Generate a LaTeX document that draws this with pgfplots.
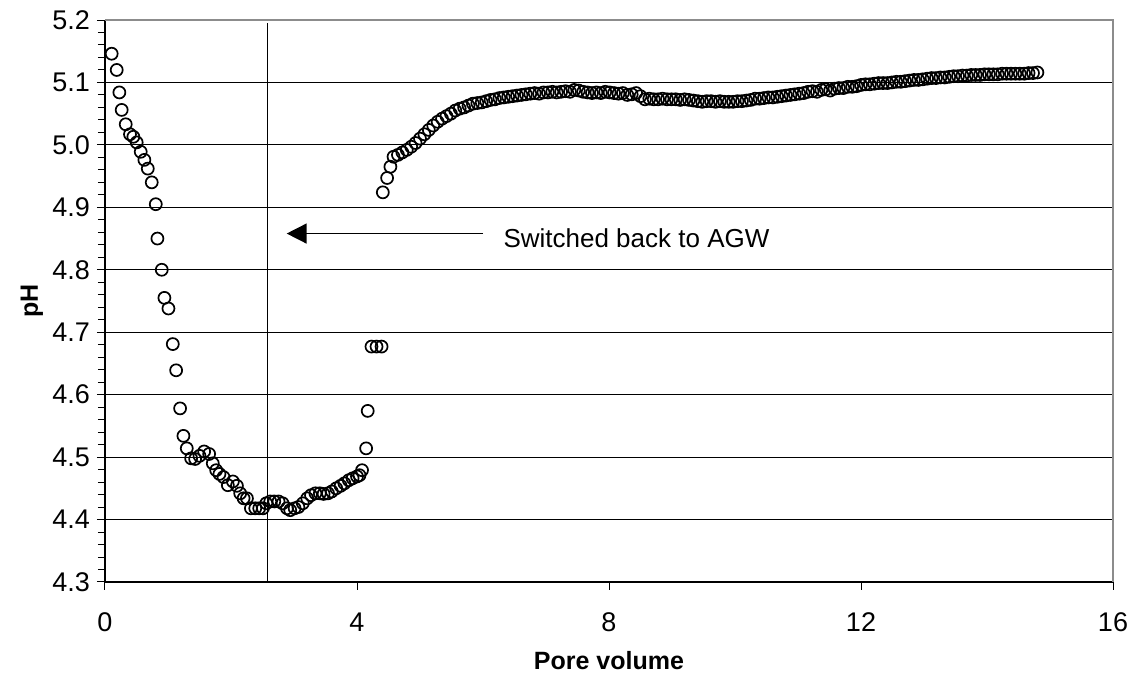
\documentclass[border=0pt]{standalone}
\usepackage{fontspec}
\setmainfont{Liberation Sans}
\usepackage{pgfplots}
\pgfplotsset{compat=1.18}
\usetikzlibrary{arrows.meta}
\begin{document}
\begin{tikzpicture}
\begin{axis}[
  scale only axis, width=504pt, height=281pt,
  xmin=0, xmax=16, ymin=4.3, ymax=5.2,
  xtick={0,4,8,12,16},
  ytick={4.3,4.4,4.5,4.6,4.7,4.8,4.9,5.0,5.1,5.2},
  minor y tick num=4,
  axis x line*=bottom, axis y line*=left,
  axis line style={black, line width=0.65pt},
  tick align=outside,
  major tick length=4pt, minor tick length=3.5pt,
  tick style={black, line width=0.5pt},
  ymajorgrids, major grid style={black, line width=0.5pt},
  /pgf/number format/assume math mode=true,
  ticklabel style={font=\fontsize{13.5}{15}\selectfont},
  yticklabel style={/pgf/number format/.cd, fixed, fixed zerofill, precision=1},
  xticklabel style={yshift=-8pt},
  xlabel={Pore volume}, ylabel={pH},
  label style={font=\fontsize{12.5}{14}\selectfont\bfseries},
  xlabel style={at={(axis description cs:0.5,-0.1566)}, anchor=base},
  ylabel style={at={(axis description cs:-0.0665,0.5)}, anchor=base},
  clip=false,
]
\coordinate (ll) at (rel axis cs:0,0);
\coordinate (ur) at (rel axis cs:1,1);
\draw[black!45, line width=0.65pt] (rel axis cs:0,1) -- (rel axis cs:1,1) -- (rel axis cs:1,0);
\addplot[only marks, mark=o, mark size=3pt, mark options={line width=0.85pt, black, fill=none}] table {
x y
0.106 5.146
0.186 5.120
0.228 5.084
0.265 5.056
0.329 5.033
0.397 5.017
0.45 5.013
0.503 5.004
0.567 4.989
0.625 4.976
0.679 4.962
0.742 4.940
0.806 4.905
0.832 4.850
0.901 4.800
0.943 4.755
1.007 4.738
1.076 4.681
1.129 4.639
1.192 4.578
1.245 4.534
1.298 4.514
1.367 4.498
1.431 4.497
1.50 4.502
1.574 4.509
1.653 4.505
1.711 4.490
1.765 4.479
1.817 4.473
1.881 4.468
1.950 4.455
2.03 4.461
2.094 4.454
2.146 4.442
2.20 4.434
2.253 4.434
2.316 4.418
2.385 4.418
2.448 4.418
2.507 4.418
2.56 4.426
2.623 4.429
2.687 4.429
2.755 4.429
2.819 4.426
2.889 4.418
2.94 4.415
3.01 4.418
3.07 4.420
3.14 4.426
3.21 4.434
3.27 4.439
3.34 4.442
3.41 4.442
3.47 4.441
3.54 4.442
3.60 4.445
3.67 4.450
3.74 4.454
3.80 4.458
3.87 4.463
3.93 4.466
4.00 4.469
4.04 4.471
4.08 4.479
4.145 4.514
4.17 4.574
4.23 4.677
4.31 4.677
4.39 4.677
4.41 4.924
4.478 4.947
4.53 4.965
4.58 4.981
4.65 4.984
4.72 4.988
4.79 4.992
4.86 4.997
4.93 5.003
5.00 5.010
5.07 5.017
5.14 5.024
5.21 5.031
5.28 5.037
5.35 5.042
5.42 5.046
5.49 5.050
5.56 5.055
5.63 5.058
5.70 5.060
5.77 5.063
5.84 5.066
5.91 5.067
5.98 5.068
6.05 5.070
6.12 5.072
6.19 5.073
6.26 5.075
6.33 5.076
6.40 5.077
6.47 5.078
6.54 5.079
6.61 5.080
6.68 5.081
6.75 5.082
6.82 5.083
6.89 5.082
6.96 5.084
7.03 5.084
7.10 5.085
7.17 5.084
7.24 5.085
7.31 5.086
7.38 5.085
7.45 5.088
7.52 5.087
7.59 5.085
7.66 5.084
7.73 5.083
7.80 5.084
7.87 5.083
7.94 5.085
8.01 5.084
8.08 5.083
8.15 5.082
8.22 5.083
8.29 5.080
8.36 5.081
8.43 5.083
8.50 5.078
8.57 5.073
8.64 5.074
8.71 5.073
8.78 5.073
8.85 5.074
8.92 5.073
8.99 5.073
9.06 5.073
9.13 5.072
9.20 5.073
9.27 5.072
9.34 5.071
9.41 5.070
9.48 5.069
9.55 5.070
9.62 5.070
9.69 5.069
9.76 5.070
9.83 5.069
9.90 5.069
9.97 5.069
10.04 5.070
10.11 5.070
10.18 5.071
10.25 5.072
10.32 5.074
10.39 5.074
10.46 5.075
10.53 5.076
10.60 5.076
10.67 5.077
10.74 5.078
10.81 5.079
10.88 5.080
10.95 5.081
11.02 5.082
11.09 5.083
11.16 5.085
11.23 5.086
11.30 5.085
11.37 5.088
11.44 5.089
11.51 5.087
11.58 5.090
11.65 5.091
11.72 5.091
11.79 5.093
11.86 5.093
11.93 5.094
12.00 5.096
12.07 5.097
12.14 5.097
12.21 5.098
12.28 5.099
12.35 5.099
12.42 5.099
12.49 5.100
12.56 5.101
12.63 5.101
12.70 5.102
12.77 5.103
12.84 5.104
12.91 5.104
12.98 5.105
13.05 5.106
13.12 5.107
13.19 5.107
13.26 5.108
13.33 5.108
13.40 5.109
13.47 5.110
13.54 5.110
13.61 5.111
13.68 5.111
13.75 5.112
13.82 5.112
13.89 5.112
13.96 5.113
14.03 5.113
14.10 5.113
14.17 5.113
14.24 5.114
14.31 5.114
14.38 5.114
14.45 5.114
14.52 5.114
14.59 5.114
14.66 5.115
14.73 5.115
14.80 5.116
};
\draw[black, line width=0.9pt] (axis cs:2.58,4.3) -- (axis cs:2.58,5.195);
\draw[black, line width=0.75pt, -{Triangle[length=10pt,width=10pt]}] (axis cs:6.0,4.858) -- (axis cs:2.884,4.858);
\node[anchor=base west, inner sep=0pt, font=\fontsize{13}{15}\selectfont] at (axis cs:6.32,4.835) {Switched back to AGW};
\end{axis}
\pgfresetboundingbox
\path ([shift={(-52.5pt,-52.5pt)}]ll) rectangle ([shift={(9pt,10pt)}]ur);
\end{tikzpicture}
\end{document}
